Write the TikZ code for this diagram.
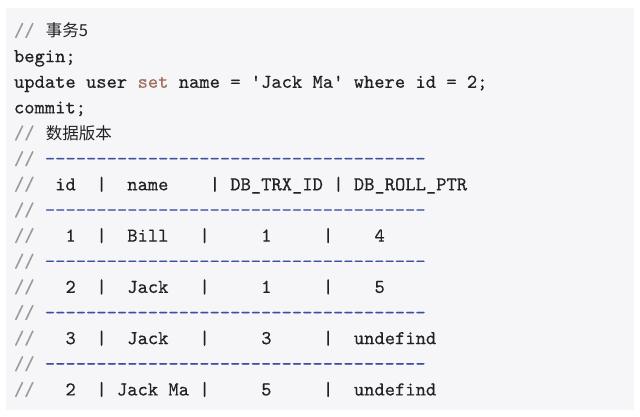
\documentclass[tikz,border=0pt]{standalone}
\usepackage{fontspec}
\newfontfamily\cjk{Noto Sans CJK SC}
\newfontfamily\codefont{lmmono10-regular.otf}[FakeBold=0.4]
\definecolor{bgc}{HTML}{F6F6F9}
\definecolor{txc}{HTML}{222222}
\definecolor{cmc}{HTML}{9A9A9A}
\definecolor{dsc}{HTML}{3D4F9F}
\definecolor{kwc}{HTML}{A0705E}
\newcommand\cell[5]{\node[#1] (#2) at ({14pt+#3*10.3pt},{417pt-36.5pt-#4*25.64pt}) {#5};}
\tikzset{
  base/.style={inner sep=0pt, outer sep=0pt, anchor=base west, font=\codefont\fontsize{19.6}{22}\selectfont},
  txt/.style={base, text=txc},
  cmt/.style={base, text=cmc},
  dsh/.style={base, text=dsc},
  kw/.style={base, text=kwc},
  zh/.style={inner sep=0pt, outer sep=0pt, anchor=base west, text=txc, font=\cjk\fontsize{16.5}{20}\selectfont},
}
\newcommand\dashes{-------------------------------------}
\begin{document}
\begin{tikzpicture}
\useasboundingbox (0,0) rectangle (640pt,417pt);
\fill[bgc] (6pt,7pt) rectangle (634pt,409pt);
% line 0
\cell{cmt}{c0}{0}{0}{//}
\cell{zh}{z0}{3.1}{0}{事务5}
% line 1
\cell{txt}{l1}{0}{1}{begin;}
% line 2
\cell{txt}{l2a}{0}{2}{update user}
\cell{kw}{l2b}{12}{2}{set}
\cell{txt}{l2c}{16}{2}{name = 'Jack Ma' where id = 2;}
% line 3
\cell{txt}{l3}{0}{3}{commit;}
% line 4
\cell{cmt}{c4}{0}{4}{//}
\cell{zh}{z4}{3.1}{4}{数据版本}
% dash lines
\foreach \r in {5,7,9,11,13}{
  \cell{cmt}{cd\r}{0}{\r}{//}
  \cell{dsh}{dd\r}{3}{\r}{\dashes}
}
% header
\cell{cmt}{c6}{0}{6}{//}
\cell{txt}{h1}{4}{6}{id}
\cell{txt}{h2}{8}{6}{|}
\cell{txt}{h3}{11}{6}{name}
\cell{txt}{h4}{19}{6}{|}
\cell{txt}{h5}{21}{6}{DB\_TRX\_ID}
\cell{txt}{h6}{31}{6}{|}
\cell{txt}{h7}{33}{6}{DB\_ROLL\_PTR}
% row 1
\cell{cmt}{c8}{0}{8}{//}
\cell{txt}{a1}{5}{8}{1}
\cell{txt}{a2}{8}{8}{|}
\cell{txt}{a3}{11}{8}{Bill}
\cell{txt}{a4}{18}{8}{|}
\cell{txt}{a5}{24}{8}{1}
\cell{txt}{a6}{30}{8}{|}
\cell{txt}{a7}{35}{8}{4}
% row 2
\cell{cmt}{c10}{0}{10}{//}
\cell{txt}{b1}{5}{10}{2}
\cell{txt}{b2}{8}{10}{|}
\cell{txt}{b3}{11}{10}{Jack}
\cell{txt}{b4}{18}{10}{|}
\cell{txt}{b5}{24}{10}{1}
\cell{txt}{b6}{30}{10}{|}
\cell{txt}{b7}{35}{10}{5}
% row 3
\cell{cmt}{c12}{0}{12}{//}
\cell{txt}{d1}{5}{12}{3}
\cell{txt}{d2}{8}{12}{|}
\cell{txt}{d3}{11}{12}{Jack}
\cell{txt}{d4}{18}{12}{|}
\cell{txt}{d5}{24}{12}{3}
\cell{txt}{d6}{30}{12}{|}
\cell{txt}{d7}{33}{12}{undefind}
% row 4
\cell{cmt}{c14}{0}{14}{//}
\cell{txt}{e1}{5}{14}{2}
\cell{txt}{e2}{8}{14}{|}
\cell{txt}{e3}{10}{14}{Jack Ma}
\cell{txt}{e4}{18}{14}{|}
\cell{txt}{e5}{24}{14}{5}
\cell{txt}{e6}{30}{14}{|}
\cell{txt}{e7}{33}{14}{undefind}
\end{tikzpicture}
\end{document}
